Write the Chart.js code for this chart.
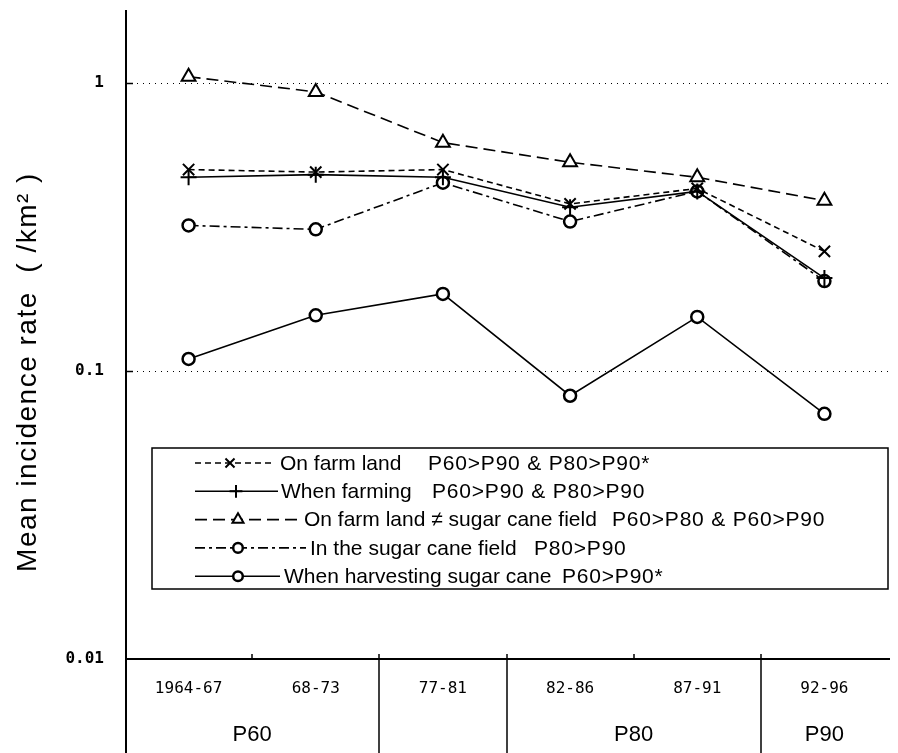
<!DOCTYPE html>
<html><head><meta charset="utf-8">
<script src="https://cdn.jsdelivr.net/npm/chart.js@4/dist/chart.umd.min.js"></script>
<style>html,body{margin:0;padding:0;background:#fff}#wrap{width:898px;height:753px}</style>
</head><body><div id="wrap"><canvas id="c" width="898" height="753"></canvas></div>
<script>
// ---- data ----
const categories = ['1964-67','68-73','77-81','82-86','87-91','92-96'];
const periodLabels = ['P60','P80','P90'];
const periodSpans = [[0,1],[3,4],[5,5]];
const dividerAfter = [1,2,4];
const minorTickAfter = [0,3];
const yTickValues = [0.01, 0.1, 1];
const yGridValues = [0.1, 1];
const yAxisTitle = 'Mean incidence rate  ( /km\u00B2 )';

const onFarmLand     = [0.50, 0.49, 0.50, 0.38, 0.43, 0.26];
const whenFarming    = [0.47, 0.48, 0.47, 0.37, 0.42, 0.21];
const farmNotCane    = [1.05, 0.93, 0.62, 0.53, 0.47, 0.39];
const inCaneField    = [0.32, 0.31, 0.45, 0.33, 0.42, 0.205];
const whenHarvesting = [0.11, 0.156, 0.185, 0.082, 0.154, 0.071];

const seriesNames = ['On farm land','When farming','On farm land \u2260 sugar cane field','In the sugar cane field','When harvesting sugar cane'];
const seriesNotes = ['P60>P90 & P80>P90*','P60>P90 & P80>P90','P60>P80 & P60>P90','P80>P90','P60>P90*'];

// ---- styles / legend layout ----
const styles = [
  {dash:[6,4], point:'crossRot', r:8, pw:2},
  {dash:[], point:'cross', r:8, pw:2},
  {dash:[12,6], point:'triangle', r:8, pw:2},
  {dash:[10,4,3,4], point:'circle', r:6, pw:2.5},
  {dash:[], point:'circle', r:6, pw:2.5}
];
const legendLayout = [
  {sEnd:272, mk:230, nx:280, tx:428},
  {sEnd:278, mk:236, nx:281, tx:432},
  {sEnd:300, mk:238, nx:304, tx:612},
  {sEnd:306, mk:238, nx:310, tx:534},
  {sEnd:280, mk:238, nx:284, tx:562}
];
const seriesData = [onFarmLand, whenFarming, farmNotCane, inCaneField, whenHarvesting];

const datasets = seriesData.map((d,i)=>({
  label: seriesNames[i],
  data: d,
  borderColor:'#000',
  backgroundColor:'#fff',
  borderWidth:1.6,
  borderDash: styles[i].dash,
  pointStyle: styles[i].point,
  pointRadius: styles[i].r,
  pointBorderWidth: styles[i].pw,
  pointBorderColor:'#000',
  pointBackgroundColor:'#fff',
  tension:0
}));

const decor = {
  id:'decor',
  beforeDatasetsDraw(chart){
    const ctx = chart.ctx, ca = chart.chartArea, y = chart.scales.y;
    ctx.save();
    ctx.strokeStyle = '#000';
    yGridValues.forEach(v=>{
      const py = Math.round(y.getPixelForValue(v)) + 0.5;
      ctx.lineWidth = 1;
      ctx.setLineDash([1,5]);
      ctx.beginPath(); ctx.moveTo(ca.left+12, py); ctx.lineTo(ca.right, py); ctx.stroke();
      ctx.setLineDash([]);
      ctx.lineWidth = 1.5;
      ctx.beginPath(); ctx.moveTo(ca.left, py); ctx.lineTo(ca.left+8, py); ctx.stroke();
    });
    ctx.restore();
  },
  afterDraw(chart){
    const ctx = chart.ctx, ca = chart.chartArea, x = chart.scales.x;
    const H = chart.height;
    ctx.save();
    ctx.strokeStyle = '#000';
    ctx.fillStyle = '#000';
    // y axis title
    ctx.save();
    ctx.translate(28, 372);
    ctx.rotate(-Math.PI/2);
    ctx.font = '28px "Liberation Sans", Arial, sans-serif';
    ctx.letterSpacing = '1.5px';
    ctx.textAlign = 'center'; ctx.textBaseline = 'middle';
    ctx.fillText(yAxisTitle, 0, 0);
    ctx.restore();
    // y axis line
    ctx.lineWidth = 2;
    ctx.beginPath(); ctx.moveTo(ca.left+1, ca.top); ctx.lineTo(ca.left+1, H); ctx.stroke();
    // x axis line
    ctx.beginPath(); ctx.moveTo(ca.left, ca.bottom); ctx.lineTo(ca.right+2, ca.bottom); ctx.stroke();
    const bnd = i => (x.getPixelForValue(i) + x.getPixelForValue(i+1)) / 2;
    ctx.lineWidth = 1.5;
    dividerAfter.forEach(i=>{
      const px = Math.round(bnd(i));
      ctx.beginPath(); ctx.moveTo(px, ca.bottom-5); ctx.lineTo(px, H); ctx.stroke();
    });
    minorTickAfter.forEach(i=>{
      const px = Math.round(bnd(i));
      ctx.beginPath(); ctx.moveTo(px, ca.bottom-5); ctx.lineTo(px, ca.bottom); ctx.stroke();
    });
    // period labels
    ctx.font = '22px "Liberation Sans", Arial, sans-serif';
    ctx.textAlign = 'center'; ctx.textBaseline = 'middle';
    periodLabels.forEach((t,k)=>{
      const [a,b] = periodSpans[k];
      const px = (x.getPixelForValue(a) + x.getPixelForValue(b)) / 2;
      ctx.fillText(t, px, 735);
    });
    // legend box
    const bx = 152, by = 448, bw = 736, bh = 141;
    ctx.fillStyle = '#fff';
    ctx.fillRect(bx, by, bw, bh);
    ctx.lineWidth = 1.5;
    ctx.strokeRect(bx, by, bw, bh);
    ctx.textAlign = 'left';
    seriesNames.forEach((n,i)=>{
      const ly = 463 + i*28.3;
      const st = styles[i], L = legendLayout[i];
      ctx.lineWidth = 1.6;
      ctx.setLineDash(st.dash);
      ctx.beginPath(); ctx.moveTo(195, ly); ctx.lineTo(L.sEnd, ly); ctx.stroke();
      ctx.setLineDash([]);
      ctx.fillStyle = '#fff';
      ctx.lineWidth = st.pw;
      Chart.helpers.drawPoint(ctx, {pointStyle:st.point, radius:st.r*0.8, rotation:0, borderWidth:st.pw}, L.mk, ly);
      ctx.fillStyle = '#000';
      ctx.font = '21px "Liberation Sans", Arial, sans-serif';
      ctx.letterSpacing = '0px';
      ctx.fillText(n, L.nx, ly+1);
      ctx.letterSpacing = '0.8px';
      ctx.fillText(seriesNotes[i], L.tx, ly+1);
      ctx.letterSpacing = '0px';
    });
    ctx.restore();
  }
};

new Chart(document.getElementById('c'), {
  type:'line',
  data:{labels:categories, datasets},
  options:{
    responsive:false,
    animation:false,
    layout:{padding:{top:10,right:6,left:0,bottom:0}},
    plugins:{legend:{display:false}, tooltip:{enabled:false}},
    scales:{
      x:{
        type:'category', offset:true,
        grid:{display:false, drawTicks:false}, border:{display:false},
        ticks:{font:{family:'DejaVu Sans Mono', size:16}, color:'#000', padding:20, maxRotation:0, autoSkip:false},
        afterFit:(s)=>{ s.height = 94; s.paddingLeft = 0; s.paddingRight = 0; }
      },
      y:{
        type:'logarithmic', min:0.01, max:1.79,
        afterBuildTicks:(s)=>{ s.ticks = yTickValues.map(v=>({value:v})); },
        ticks:{callback:(v)=>String(v), font:{family:'DejaVu Sans Mono', size:16, weight:'bold'}, color:'#000', padding:21},
        grid:{display:false, drawTicks:false}, border:{display:false},
        title:{display:false},
        afterFit:(s)=>{ s.width = 125; s.paddingTop = 0; s.paddingBottom = 0; }
      }
    }
  },
  plugins:[decor]
});
</script>
</body></html>
